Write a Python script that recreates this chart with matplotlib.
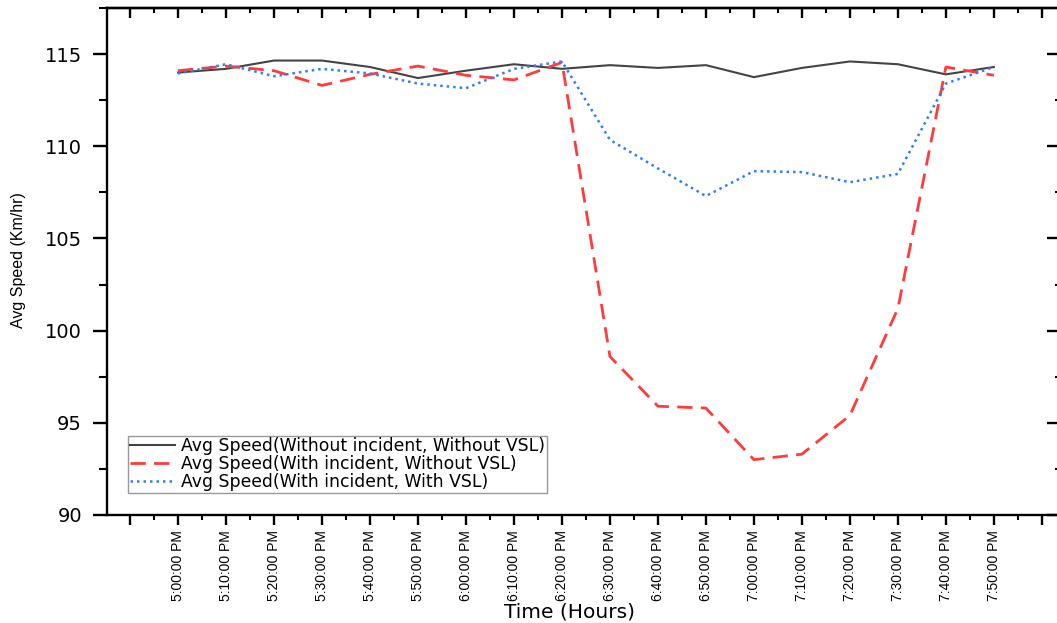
import matplotlib
matplotlib.use("Agg")
import matplotlib.pyplot as plt
from matplotlib.ticker import MultipleLocator, FixedLocator

# minutes after 5:00 PM
minutes = [0, 10, 20, 30, 40, 50, 60, 70, 80, 90, 100, 110, 120, 130, 140, 150, 160, 170]
tick_labels = ["5:00:00 PM", "5:10:00 PM", "5:20:00 PM", "5:30:00 PM", "5:40:00 PM",
               "5:50:00 PM", "6:00:00 PM", "6:10:00 PM", "6:20:00 PM", "6:30:00 PM",
               "6:40:00 PM", "6:50:00 PM", "7:00:00 PM", "7:10:00 PM", "7:20:00 PM",
               "7:30:00 PM", "7:40:00 PM", "7:50:00 PM"]

no_incident_no_vsl = [114.0, 114.2, 114.65, 114.65, 114.3, 113.7, 114.1, 114.45, 114.2,
                      114.4, 114.25, 114.4, 113.75, 114.25, 114.6, 114.45, 113.9, 114.3]
incident_no_vsl = [114.1, 114.35, 114.1, 113.3, 113.9, 114.35, 113.85, 113.6, 114.55,
                   98.6, 95.9, 95.8, 93.0, 93.3, 95.4, 101.2, 114.3, 113.85]
incident_vsl = [113.95, 114.45, 113.8, 114.2, 113.95, 113.4, 113.15, 114.2, 114.6,
                110.35, 108.8, 107.3, 108.65, 108.6, 108.05, 108.5, 113.4, 114.3]

series_names = ["Avg Speed(Without incident, Without VSL)",
                "Avg Speed(With incident, Without VSL)",
                "Avg Speed(With incident, With VSL)"]

fig = plt.figure(figsize=(10.57, 6.23), dpi=100)
ax = fig.add_axes([107/1057, 1 - 515/623, (1062 - 107)/1057, (515 - 8)/623])

ax.plot(minutes, no_incident_no_vsl, color="#444444", lw=1.5, ls="-", label=series_names[0])
ax.plot(minutes, incident_no_vsl, color="#ff3b3b", lw=2.0, ls=(0, (5.5, 3)), label=series_names[1])
ax.plot(minutes, incident_vsl, color="#2f7ff0", lw=1.8, ls=(0, (1, 1.6)), label=series_names[2])

ax.set_xlim(-14.8, 184.2)
ax.set_ylim(90, 117.5)

major_x = [-10] + minutes + [180]
minor_x = [-5 + 10 * i for i in range(20)]
ax.xaxis.set_major_locator(FixedLocator(major_x))
ax.xaxis.set_minor_locator(FixedLocator(minor_x))
ax.set_xticklabels([""] + tick_labels + [""], rotation=90,
                   family="Liberation Sans", fontsize=10)
ax.set_yticks([90, 95, 100, 105, 110, 115])
ax.yaxis.set_minor_locator(MultipleLocator(2.5))
ax.set_yticklabels(["90", "95", "100", "105", "110", "115"], fontsize=14,
                   family="DejaVu Sans")

for s in ax.spines.values():
    s.set_linewidth(1.7)

ax.tick_params(axis="x", which="major", direction="out", length=7, width=1.7,
               top=False, pad=4)
ax.tick_params(axis="x", which="minor", direction="out", length=3.5, width=1.5, top=False)
ax.tick_params(axis="y", which="major", direction="out", length=10, width=1.7,
               right=False, pad=8)
ax.tick_params(axis="y", which="minor", direction="out", length=5.5, width=1.5, right=False)

sx = ax.secondary_xaxis("top")
sx.xaxis.set_major_locator(FixedLocator(major_x))
sx.xaxis.set_minor_locator(FixedLocator(minor_x))
sx.tick_params(axis="x", which="major", direction="in", length=7, width=1.7, labeltop=False)
sx.tick_params(axis="x", which="minor", direction="in", length=3.5, width=1.5)
sx.spines["top"].set_linewidth(1.7)
sy = ax.secondary_yaxis("right")
sy.yaxis.set_major_locator(MultipleLocator(5))
sy.yaxis.set_minor_locator(MultipleLocator(2.5))
sy.tick_params(axis="y", which="major", direction="in", length=11, width=1.7, labelright=False)
sy.tick_params(axis="y", which="minor", direction="in", length=5, width=1.5)

ax.set_ylabel("Avg Speed (Km/hr)", fontsize=11.5, family="Liberation Sans")
ax.yaxis.set_label_coords(-(107 - 18) / (1062 - 107), (515 - 260) / 507)
ax.yaxis.label.set_va("center")
ax.set_xlabel("Time (Hours)", fontsize=14.5, family="DejaVu Sans")
ax.xaxis.set_label_coords((570 - 107) / (1062 - 107), -(612 - 515) / 507)
ax.xaxis.label.set_va("center")

leg = ax.legend(loc="lower left", bbox_to_anchor=(0.022, 0.043), borderaxespad=0,
                prop={"family": "DejaVu Sans", "size": 12.4}, frameon=True, fancybox=False,
                framealpha=1, edgecolor="#999999", handlelength=2.6, handletextpad=0.4,
                borderpad=0.1, labelspacing=0.0)
leg.get_frame().set_linewidth(1.0)

fig.savefig("out.png", dpi=100)
